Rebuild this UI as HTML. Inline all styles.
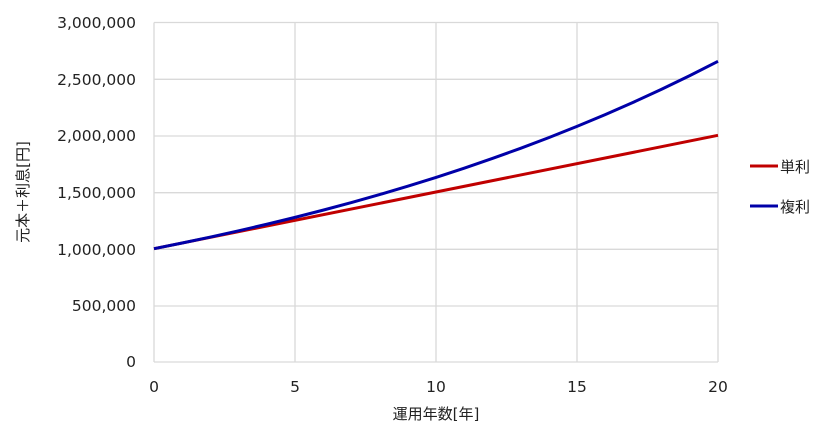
<!DOCTYPE html>
<html><head><meta charset="utf-8"><style>
body{margin:0;background:#fff;}
svg text{font-family:"DejaVu Sans","Noto Sans CJK JP",sans-serif;fill:#222;}
</style></head><body>
<svg width="834" height="440" xmlns="http://www.w3.org/2000/svg">
<g stroke="#d9d9d9" stroke-width="1.3" fill="none">
<line x1="154" y1="22.5" x2="718" y2="22.5"/>
<line x1="154" y1="79.3" x2="718" y2="79.3"/>
<line x1="154" y1="136" x2="718" y2="136"/>
<line x1="154" y1="192.7" x2="718" y2="192.7"/>
<line x1="154" y1="249.3" x2="718" y2="249.3"/>
<line x1="154" y1="306" x2="718" y2="306"/>
<line x1="154" y1="362" x2="718" y2="362"/>
<line x1="154" y1="22.5" x2="154" y2="362"/>
<line x1="295" y1="22.5" x2="295" y2="362"/>
<line x1="436" y1="22.5" x2="436" y2="362"/>
<line x1="577" y1="22.5" x2="577" y2="362"/>
<line x1="718" y1="22.5" x2="718" y2="362"/>
</g>
<g font-size="15.5" text-anchor="end">
<text x="136" y="28">3,000,000</text>
<text x="136" y="85">2,500,000</text>
<text x="136" y="141">2,000,000</text>
<text x="136" y="198">1,500,000</text>
<text x="136" y="255">1,000,000</text>
<text x="136" y="311">500,000</text>
<text x="136" y="367">0</text>
</g>
<g font-size="15.5" text-anchor="middle">
<text x="154" y="392">0</text>
<text x="295" y="392">5</text>
<text x="436" y="392">10</text>
<text x="577" y="392">15</text>
<text x="718" y="392">20</text>
<text x="436" y="419" font-size="15">運用年数[年]</text>
</g>
<text transform="translate(28,192) rotate(-90)" font-size="15" text-anchor="middle">元本＋利息[円]</text>
<polyline fill="none" stroke="#c00000" stroke-width="3" points="154,248.67 718,135.33"/>
<polyline fill="none" stroke="#0000a8" stroke-width="3" points="154,248.67 182.2,243 210.4,237.05 238.6,230.8 266.8,224.24 295,217.36 323.2,210.12 351.4,202.53 379.6,194.56 407.8,186.18 436,177.39 464.2,168.16 492.4,158.47 520.6,148.29 548.8,137.61 577,126.39 605.2,114.61 633.4,102.24 661.6,89.25 689.8,75.61 718,61.29"/>
<line x1="750" y1="166" x2="778" y2="166" stroke="#c00000" stroke-width="3"/>
<line x1="750" y1="206" x2="778" y2="206" stroke="#0000a8" stroke-width="3"/>
<text x="780" y="172" font-size="15">単利</text>
<text x="780" y="212" font-size="15">複利</text>
</svg>
</body></html>
